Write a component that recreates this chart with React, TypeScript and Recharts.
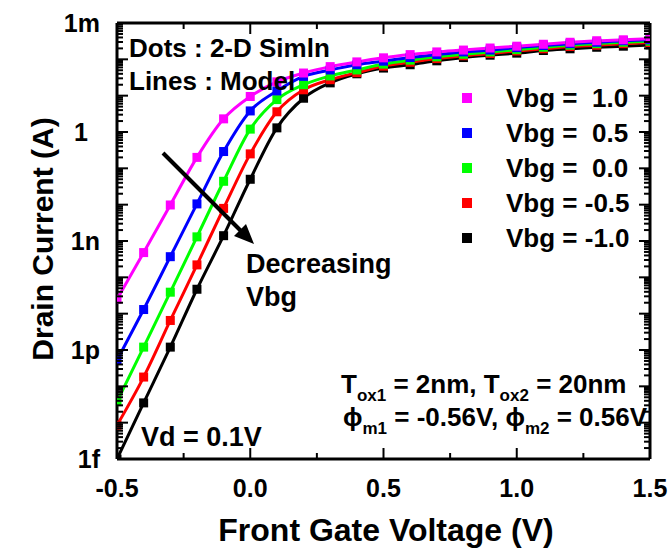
import { ComposedChart, Line, XAxis, YAxis } from "recharts";

// front gate voltage sweep (V)
const gateVoltage = [
  -0.5, -0.4, -0.3, -0.2, -0.1, 0.0, 0.1, 0.2, 0.3, 0.4, 0.5, 0.6, 0.7, 0.8,
  0.9, 1.0, 1.1, 1.2, 1.3, 1.4, 1.5,
];

// drain current (A) per back gate bias
const idVbgP10 = [
  2.5e-11, 4.8e-10, 9.8e-9, 2.0e-7, 2.3e-6, 9.5e-6, 2.4e-5, 4.2e-5, 6.3e-5,
  8.5e-5, 1.1e-4, 1.35e-4, 1.6e-4, 1.8e-4, 2.05e-4, 2.3e-4, 2.6e-4, 2.95e-4,
  3.25e-4, 3.45e-4, 3.7e-4,
];
const idVbgP05 = [
  5.2e-13, 1.3e-11, 3.7e-10, 1.05e-8, 2.9e-7, 3.8e-6, 1.35e-5, 3.4e-5, 5.1e-5,
  7.1e-5, 8.9e-5, 1.12e-4, 1.35e-4, 1.6e-4, 1.8e-4, 2.1e-4, 2.4e-4, 2.7e-4,
  2.95e-4, 3.25e-4, 3.45e-4,
];
const idVbg00 = [
  3.8e-14, 1.2e-12, 3.9e-11, 1.3e-9, 4.4e-8, 1.2e-6, 7.8e-6, 2.0e-5, 3.5e-5,
  5.1e-5, 7.4e-5, 9.5e-5, 1.17e-4, 1.38e-4, 1.6e-4, 1.85e-4, 2.15e-4, 2.45e-4,
  2.7e-4, 2.95e-4, 3.15e-4,
];
const idVbgM05 = [
  8.5e-15, 1.8e-13, 6.5e-12, 2.2e-10, 7.9e-9, 2.5e-7, 3.6e-6, 1.45e-5, 2.75e-5,
  4.3e-5, 6.5e-5, 8.3e-5, 1.05e-4, 1.26e-4, 1.45e-4, 1.7e-4, 1.95e-4, 2.25e-4,
  2.45e-4, 2.7e-4, 2.9e-4,
];
const idVbgM10 = [
  1.0e-15, 3.5e-14, 1.2e-12, 4.7e-11, 1.4e-9, 5.0e-8, 1.3e-6, 8.5e-6, 2.25e-5,
  4.0e-5, 5.75e-5, 7.1e-5, 9.1e-5, 1.12e-4, 1.3e-4, 1.48e-4, 1.75e-4, 1.95e-4,
  2.15e-4, 2.3e-4, 2.5e-4,
];

const seriesLabels = ["Vbg =  1.0", "Vbg =  0.5", "Vbg =  0.0", "Vbg = -0.5", "Vbg = -1.0"];
const seriesKeys = ["p10", "p05", "v00", "m05", "m10"];
const seriesColors = ["#ff00ff", "#0000ff", "#00ff00", "#ff0000", "#000000"];

const xTicks = [-0.5, -0.25, 0, 0.25, 0.5, 0.75, 1.0, 1.25, 1.5];
const xTickLabels = [
  { value: -0.5, label: "-0.5" },
  { value: 0, label: "0.0" },
  { value: 0.5, label: "0.5" },
  { value: 1.0, label: "1.0" },
  { value: 1.5, label: "1.5" },
];
const yTickLabels = [
  { value: 1e-3, label: "1m" },
  { value: 1e-6, label: "1" },
  { value: 1e-9, label: "1n" },
  { value: 1e-12, label: "1p" },
  { value: 1e-15, label: "1f" },
];

const data = gateVoltage.map((v, i) => ({
  v,
  p10: idVbgP10[i],
  p05: idVbgP05[i],
  v00: idVbg00[i],
  m05: idVbgM05[i],
  m10: idVbgM10[i],
}));

// log axis ticks: 1..9 per decade
const yTicks: number[] = [];
for (let n = -15; n <= -3; n++) {
  for (let k = 1; k <= 9; k++) {
    if (n === -3 && k > 1) break;
    yTicks.push(Number((k * Math.pow(10, n)).toPrecision(3)));
  }
}

const FONT = "'Liberation Sans', Arial, Helvetica, sans-serif";

const isDecade = (v: number) => {
  const e = Math.log10(v);
  return Math.abs(e - Math.round(e)) < 1e-6;
};

function BottomTick({ x, y, payload }: any) {
  const v = payload.value;
  const lab = xTickLabels.find((t) => Math.abs(t.value - v) < 1e-6);
  const len = lab ? 11 : 6;
  return (
    <g>
      <line x1={x} y1={y} x2={x} y2={y - len} stroke="#000" strokeWidth={2} />
      {lab && (
        <text
          x={x}
          y={y + 38}
          textAnchor="middle"
          fontFamily={FONT}
          fontWeight="bold"
          fontSize={25}
          fill="#000"
        >
          {lab.label}
        </text>
      )}
    </g>
  );
}

function TopTick({ x, y, payload }: any) {
  const v = payload.value;
  const major = xTickLabels.some((t) => Math.abs(t.value - v) < 1e-6);
  return <line x1={x} y1={y} x2={x} y2={y + (major ? 11 : 6)} stroke="#000" strokeWidth={2} />;
}

function LeftTick({ x, y, payload }: any) {
  const v = payload.value;
  const e = Math.log10(v);
  const lab = yTickLabels.find((t) => Math.abs(Math.log10(t.value) - e) < 1e-6);
  const len = isDecade(v) ? 11 : 6;
  return (
    <g>
      <line x1={x} y1={y} x2={x + len} y2={y} stroke="#000" strokeWidth={2} />
      {lab && (
        <text
          x={lab.label === "1" ? x - 29 : x - 17}
          y={y}
          dy="0.36em"
          textAnchor="end"
          fontFamily={FONT}
          fontWeight="bold"
          fontSize={25}
          fill="#000"
        >
          {lab.label}
        </text>
      )}
    </g>
  );
}

function RightTick({ x, y, payload }: any) {
  const len = isDecade(payload.value) ? 11 : 6;
  return <line x1={x} y1={y} x2={x - len} y2={y} stroke="#000" strokeWidth={2} />;
}

function squareDot(props: any) {
  const { cx, cy, stroke, index } = props;
  if (cx == null || cy == null) return <g key={index} />;
  return <rect key={index} x={cx - 4.5} y={cy - 4.5} width={9} height={9} fill={stroke} />;
}

const axisLine = { stroke: "#000", strokeWidth: 3 };

function Annotations() {
  const txt = { fontFamily: FONT, fontWeight: "bold" as const, fill: "#000" };
  return (
    <svg
      width={672}
      height={548}
      style={{ position: "absolute", left: 0, top: 0, pointerEvents: "none" }}
    >
      <text x={129} y={57} fontSize={26} {...txt}>Dots : 2-D Simln</text>
      <text x={129} y={90} fontSize={26} {...txt}>Lines : Model</text>

      {seriesLabels.map((s, i) => (
        <g key={s}>
          <rect x={462} y={93 + i * 35} width={10} height={10} fill={seriesColors[i]} />
          <text x={506} y={107 + i * 35} fontSize={26} style={{ whiteSpace: "pre" }} {...txt}>
            {s}
          </text>
        </g>
      ))}

      <line x1={163} y1={153} x2={243} y2={233} stroke="#000" strokeWidth={4} />
      <polygon points="254,244 234,236 246,224" fill="#000" />
      <text x={246} y={273} fontSize={27} {...txt}>Decreasing</text>
      <text x={246} y={306} fontSize={27} {...txt}>Vbg</text>

      <text x={141} y={446} fontSize={27} {...txt}>Vd = 0.1V</text>

      <text x={341} y={393} fontSize={26} {...txt}>
        T<tspan fontSize={17} dy={8}>ox1</tspan>
        <tspan dy={-8} style={{ whiteSpace: "pre" }}> = 2nm, T</tspan>
        <tspan fontSize={17} dy={8}>ox2</tspan>
        <tspan dy={-8} style={{ whiteSpace: "pre" }}> = 20nm</tspan>
      </text>
      <text x={343} y={426} fontSize={26} {...txt}>
        {"\u03D5"}<tspan fontSize={17} dy={8}>m1</tspan>
        <tspan dy={-8} style={{ whiteSpace: "pre" }}> = -0.56V, {"\u03D5"}</tspan>
        <tspan fontSize={17} dy={8}>m2</tspan>
        <tspan dy={-8} style={{ whiteSpace: "pre" }}> = 0.56V</tspan>
      </text>

      <text x={386} y={541} fontSize={32} textAnchor="middle" {...txt}>
        Front Gate Voltage (V)
      </text>
      <text
        x={0}
        y={0}
        fontSize={30}
        textAnchor="middle"
        transform="translate(53,239) rotate(-90)"
        {...txt}
      >
        Drain Current (A)
      </text>
    </svg>
  );
}

export default function App() {
  const order = [4, 3, 2, 1, 0];
  return (
    <div style={{ position: "absolute", left: 0, top: 0, width: 672, height: 548, background: "#fff" }}>
      <ComposedChart
        width={672}
        height={548}
        data={data}
        margin={{ top: 0, right: 0, bottom: 0, left: 0 }}
      >
        <XAxis
          dataKey="v"
          type="number"
          domain={[-0.5, 1.5]}
          ticks={xTicks}
          interval={0}
          height={89}
          tickSize={0}
          tickMargin={0}
          tickLine={false}
          axisLine={axisLine}
          tick={<BottomTick />}
          allowDataOverflow
        />
        <XAxis
          xAxisId="top"
          orientation="top"
          dataKey="v"
          type="number"
          domain={[-0.5, 1.5]}
          ticks={xTicks}
          interval={0}
          height={23}
          tickSize={0}
          tickMargin={0}
          tickLine={false}
          axisLine={axisLine}
          tick={<TopTick />}
          allowDataOverflow
        />
        <YAxis
          type="number"
          scale="log"
          domain={[1e-15, 1e-3]}
          ticks={yTicks}
          interval={0}
          width={117}
          tickSize={0}
          tickMargin={0}
          tickLine={false}
          axisLine={axisLine}
          tick={<LeftTick />}
          allowDataOverflow
        />
        <YAxis
          yAxisId="right"
          orientation="right"
          type="number"
          scale="log"
          domain={[1e-15, 1e-3]}
          ticks={yTicks}
          interval={0}
          width={22}
          tickSize={0}
          tickMargin={0}
          tickLine={false}
          axisLine={axisLine}
          tick={<RightTick />}
          allowDataOverflow
        />
        {order.map((i) => (
          <Line
            key={seriesKeys[i]}
            type="monotone"
            dataKey={seriesKeys[i]}
            stroke={seriesColors[i]}
            strokeWidth={3}
            dot={squareDot}
            activeDot={false}
            isAnimationActive={false}
          />
        ))}
      </ComposedChart>
      <Annotations />
    </div>
  );
}
